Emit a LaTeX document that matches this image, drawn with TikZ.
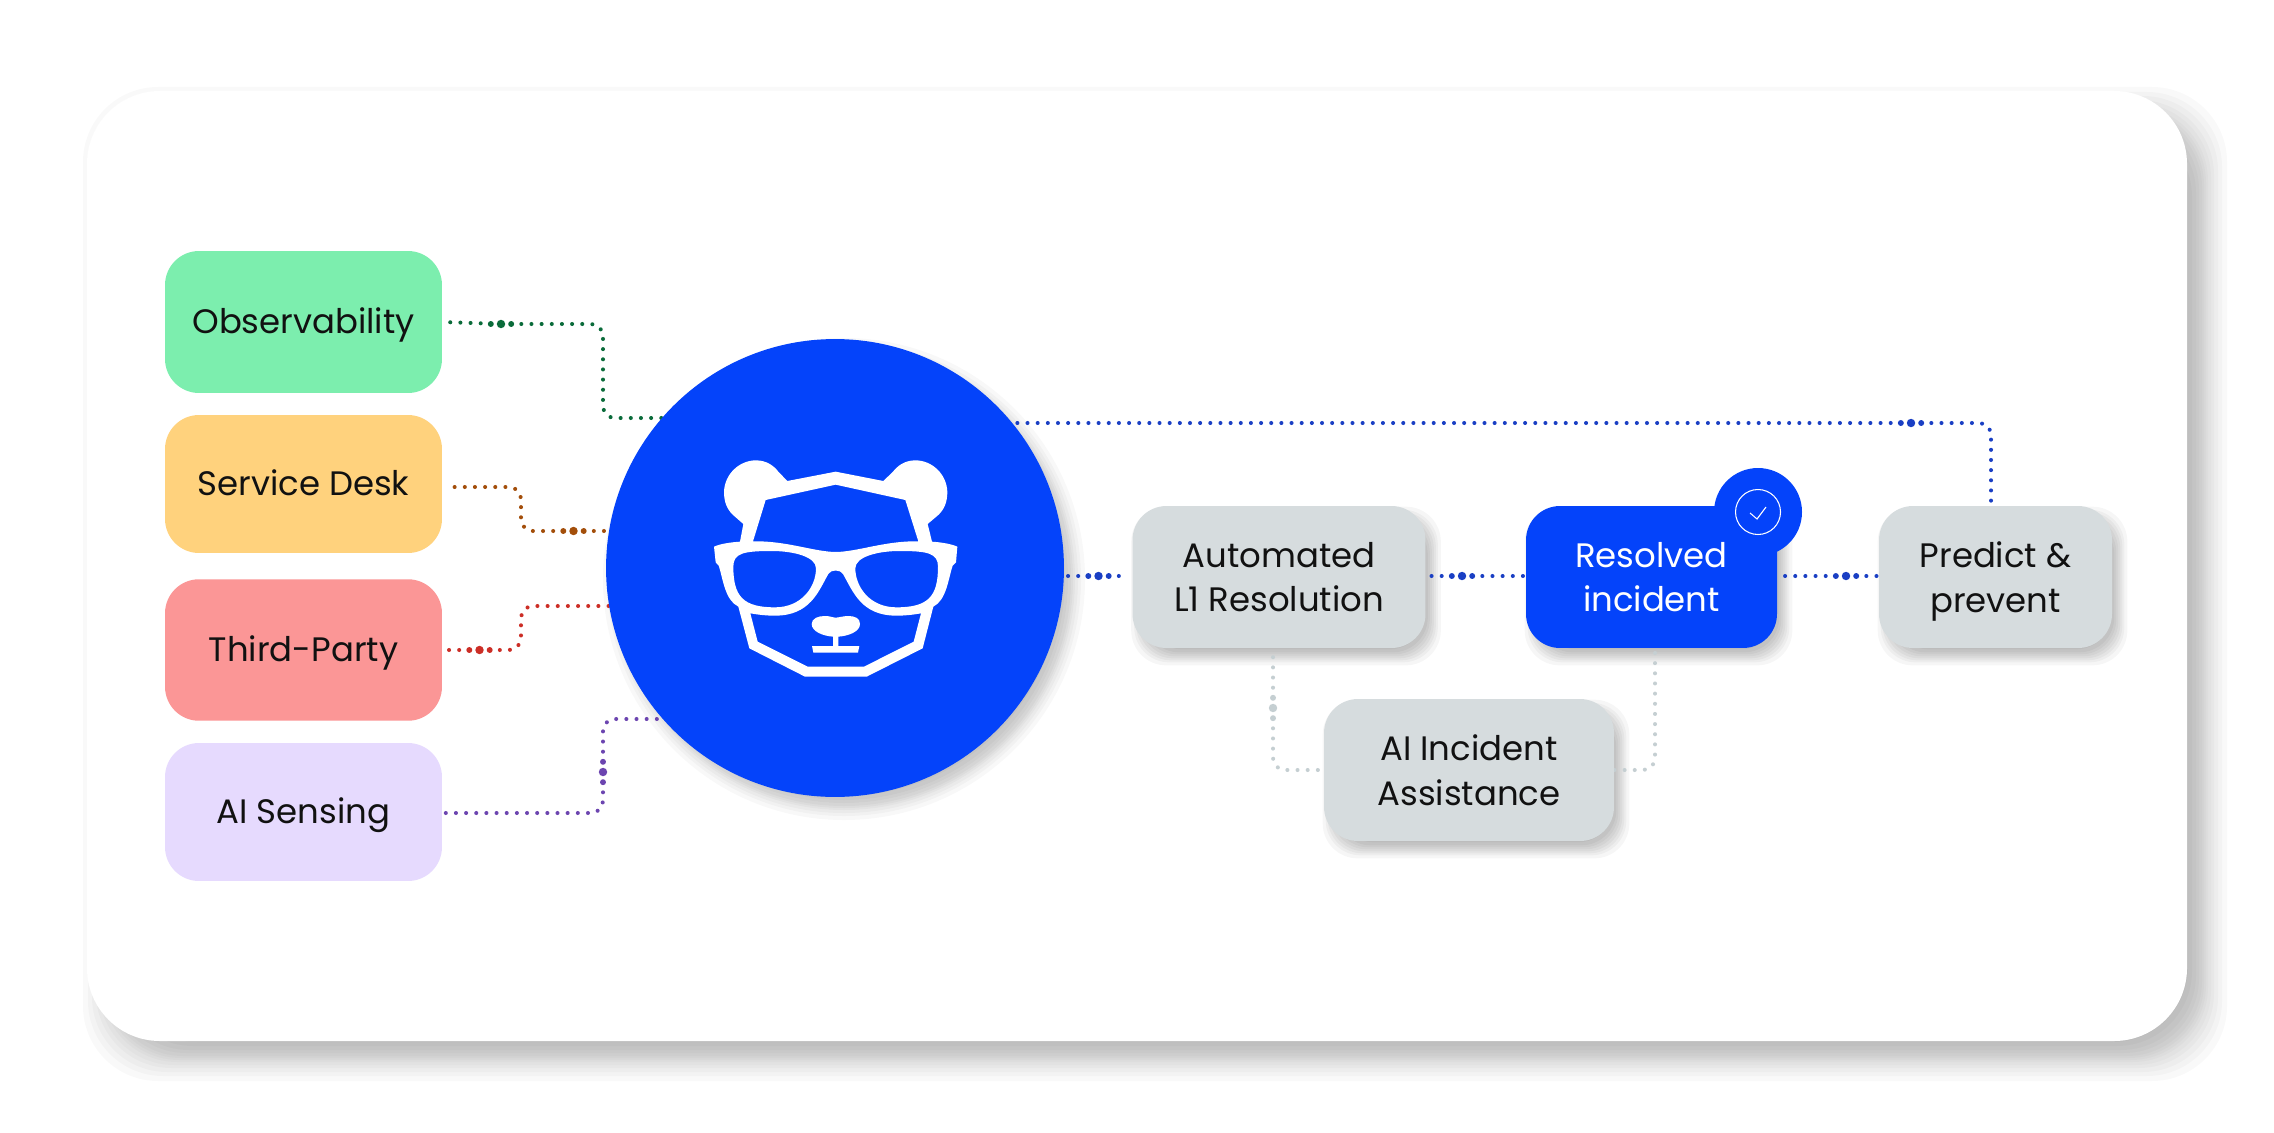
\documentclass[tikz,border=0pt]{standalone}
\usepackage{fontspec}
\setmainfont{Poppins}
\usetikzlibrary{positioning}
\pgfdeclarelayer{bg}
\pgfsetlayers{bg,main}
\definecolor{hubblue}{HTML}{0443FA}
\definecolor{obsfill}{HTML}{7CEEAE}
\definecolor{servfill}{HTML}{FFD27D}
\definecolor{thirdfill}{HTML}{FB9696}
\definecolor{sensefill}{HTML}{E6DAFE}
\definecolor{stepfill}{HTML}{D6DCDE}
\definecolor{obsline}{HTML}{0A6B3A}
\definecolor{servline}{HTML}{A34E0A}
\definecolor{thirdline}{HTML}{CC2E26}
\definecolor{senseline}{HTML}{6C45B0}
\definecolor{blueline}{HTML}{1A3FC4}
\definecolor{greyline}{HTML}{C5CFD2}
\definecolor{inktext}{HTML}{111111}
\tikzset{
	basebox/.style={rectangle, inner sep=0pt, rounded corners=.68cm, text=inktext, align=center,
		font=\fontsize{19.3}{25.5}\selectfont},
	srcbox/.style={basebox, minimum width=5.54cm, minimum height=2.8cm, text height=13.6pt, text depth=0pt},
	stepbox/.style={basebox, fill=stepfill, minimum height=2.84cm},
	dotline/.style={line cap=round, line width=2.3pt, dash pattern=on 0pt off 5.78pt, rounded corners=.24cm},
	bigdot/.style={circle, inner sep=0pt, minimum size=4.8pt},
}
% blurred shadow of a named box, stacked from nested fills
\newcommand{\boxshadow}[1]{
	\foreach \d in {-8,-5,-3,-1,1,3,5,8} {
		\fill[black, opacity=.036, rounded corners=.7cm]
			([shift={({7-(\d)},{9-(\d)})}]#1.north west) rectangle ([shift={({7+(\d)},{9+(\d)})}]#1.south east);
	}
}
\begin{document}
\begin{tikzpicture}[x=0.02cm, y=-0.02cm]
	\useasboundingbox (0,0) rectangle (2274,1132);
	% left column
	\node[srcbox, fill=obsfill, minimum height=2.84cm] (obs) at (303.5,322) {Observability};
	\node[srcbox, fill=servfill, minimum height=2.76cm] (serv) at (303.5,484) {Service Desk};
	\node[srcbox, fill=thirdfill, minimum height=2.83cm] (third) at (303.5,650) {Third-Party};
	\node[srcbox, fill=sensefill, minimum height=2.76cm] (sense) at (303.5,812) {AI Sensing};
	% hub
	\node[circle, fill=hubblue, inner sep=0pt, minimum size=9.16cm] (hub) at (835,568) {};
	% right column
	\node[stepbox, minimum width=5.86cm] (auto) at (1279,577) {Automated\\L1 Resolution};
	\node[circle, fill=hubblue, inner sep=0pt, minimum size=1.76cm] (badge) at (1758,512) {};
	\node[stepbox, minimum width=5.02cm, fill=hubblue, text=white] (res) at (1651.5,577) {Resolved\\incident};
	\node[stepbox, minimum width=4.66cm] (pred) at (1995.5,577) {Predict \&\\\smash{prevent}};
	\node[stepbox, minimum width=5.8cm] (ai) at (1469,770) {AI Incident\\Assistance};
	\node[circle, draw=white, line width=.6pt, inner sep=0pt, minimum size=.9cm] (ring) at (badge) {};
	\draw[white, line width=.6pt] (1750,513) -- (1757,519) -- (1766,507);
	% larger dots on the connectors
	\foreach \name/\px/\py/\dx/\dy/\col in {
		obsdot/501/324/10.2/0/obsline, servdot/573.5/531/10.2/0/servline,
		thirddot/479.5/650/10.2/0/thirdline, sensedot/603/772/0/10.2/senseline,
		autodot/1098.5/576/10.2/0/blueline, resdot/1462/576/10.2/0/blueline,
		preddot/1846/576/10.2/0/blueline, topdot/1911/423/10.2/0/blueline,
		lowdot/1273/708/0/10.2/greyline} {
		\node[bigdot, fill=\col] (\name) at (\px,\py) {};
		\fill[\col] (\name) ++(\dx,\dy) circle (1.7pt) (\name) ++(-\dx,-\dy) circle (1.7pt);
	}
	% corners of the routes
	\coordinate (obsturn) at (603,418);
	\coordinate (servturn) at (521,531);
	\coordinate (servout) at (447,487);
	\coordinate (thirdturn) at (521,606);
	\coordinate (thirdout) at (447,650);
	\coordinate (senseturn) at (603,719);
	\coordinate (sensebase) at (603,813);
	\coordinate (topdown) at (1991,505);
	\coordinate (lowturn) at (1273,770);
	\coordinate (resout) at (1655,653);
	\begin{pgfonlayer}{bg}
		% card
		\foreach \d in {-22,-17,-13,-9,-6,-3,-1,1,3,6,9,13,17,22} {
			\fill[black, opacity=.023, rounded corners=1.5cm] ({87+18-(\d)},{91+18-(\d)}) rectangle ({2187+18+(\d)},{1041+18+(\d)});
		}
		\fill[white, rounded corners=1.46cm] (87,91) rectangle (2187,1041);
		% shadows
		\foreach \d in {-12,-8,-5,-2,0,2,5,8,12} {
			\fill[black, opacity=.026] ([shift={(9,11)}]hub.center) circle ({229+\d});
		}
		\boxshadow{auto}
		\boxshadow{res}
		\boxshadow{pred}
		\boxshadow{ai}
		% left connectors
		\draw[dotline, obsline] (obsdot.center) -- (obs.east);
		\draw[dotline, obsline] (obsdot.center) -| (obsturn) -- (obsturn -| hub);
		\draw[dotline, servline] (servdot.center) -- (servdot -| hub);
		\draw[dotline, servline] (servdot.center) -- (servturn) |- (servout);
		\draw[dotline, thirdline] (thirddot.center) -- (thirdout);
		\draw[dotline, thirdline] (thirddot.center) -| (thirdturn) -- (thirdturn -| hub);
		\draw[dotline, senseline] (sensedot.center) -- (senseturn) -- (senseturn -| hub);
		\draw[dotline, senseline] (sensedot.center) -- (sensebase) -- (sensebase -| sense.east);
		% right connectors
		\draw[dotline, blueline] (autodot.center) -- (autodot -| hub);
		\draw[dotline, blueline, shorten >=3pt] (autodot.center) -- (autodot -| auto.west);
		\draw[dotline, blueline, shorten >=3pt] (resdot.center) -- (resdot -| auto.east);
		\draw[dotline, blueline, shorten >=1pt] (resdot.center) -- (resdot -| res.west);
		\draw[dotline, blueline, shorten >=3pt] (preddot.center) -- (preddot -| res.east);
		\draw[dotline, blueline, shorten >=1pt] (preddot.center) -- (preddot -| pred.west);
		\draw[dotline, blueline] (topdot.center) -- (topdot -| hub);
		\draw[dotline, blueline] (topdot.center) -| (topdown);
		% grey connectors
		\draw[dotline, greyline, shorten >=3pt] (lowdot.center) -- (lowdot |- auto.south);
		\draw[dotline, greyline] (lowdot.center) -- (lowturn) -- (ai.west);
		\draw[dotline, greyline] (resout) |- (ai.east);
	\end{pgfonlayer}
	% bear face, in thirds of a pixel
	\begin{scope}[shift={(580,320)}, scale=0.33333]
		\fill[white, even odd rule]
			(480,665) -- (490,612) -- (458,584) .. controls (440,566) and (432,545) .. (432,515)
			.. controls (434,462) and (478,421) .. (528,421) .. controls (560,421) and (582,438) .. (595,455) -- (622,483)
			-- (767,455) -- (910,483) -- (939,455) .. controls (952,438) and (974,421) .. (1006,421)
			.. controls (1056,421) and (1100,462) .. (1102,515) .. controls (1102,545) and (1094,566) .. (1076,584) -- (1043,612)
			-- (1056,665) .. controls (1085,667) and (1115,672) .. (1132,680) -- (1128,727) -- (1118,737)
			.. controls (1105,775) and (1100,840) .. (1060,860) -- (1028,985) -- (860,1070) -- (675,1070) -- (508,985) -- (475,860)
			.. controls (434,840) and (429,775) .. (416,737) -- (407,727) -- (402,680) .. controls (419,672) and (449,667) .. (480,665) -- cycle
			% forehead
			(519,664) -- (557,540) -- (767,494) -- (976,540) -- (1015,664)
			.. controls (915,662) and (835,695) .. (767,696) .. controls (700,695) and (620,662) .. (519,664) -- cycle
			% left lens
			(460,740) .. controls (460,700) and (490,693) .. (575,693)
			.. controls (640,693) and (708,710) .. (708,745)
			.. controls (708,800) and (665,862) .. (585,862)
			.. controls (490,862) and (460,830) .. (460,740) -- cycle
			% right lens
			(1074,740) .. controls (1074,700) and (1044,693) .. (959,693)
			.. controls (894,693) and (826,710) .. (826,745)
			.. controls (826,800) and (869,862) .. (949,862)
			.. controls (1044,862) and (1074,830) .. (1074,740) -- cycle
			% lower face
			(511,880) .. controls (540,885) and (560,887) .. (585,887)
			.. controls (690,887) and (715,815) .. (745,762) .. controls (752,748) and (782,748) .. (789,762)
			.. controls (819,815) and (844,887) .. (949,887)
			.. controls (974,887) and (994,885) .. (1023,880) -- (1001,965) -- (852,1040) -- (683,1040) -- (533,965) -- cycle;
		% nose and mouth
		\fill[white] (695,912) .. controls (695,895) and (715,888) .. (735,888) .. controls (750,888) and (760,893) .. (767,893)
			.. controls (774,893) and (790,888) .. (805,888) .. controls (825,888) and (840,895) .. (840,912)
			.. controls (840,935) and (805,948) .. (775,950) -- (775,978) -- (838,978) -- (834,998) -- (700,998) -- (696,978)
			-- (759,978) -- (759,950) .. controls (730,948) and (695,935) .. (695,912) -- cycle;
	\end{scope}
\end{tikzpicture}
\end{document}
